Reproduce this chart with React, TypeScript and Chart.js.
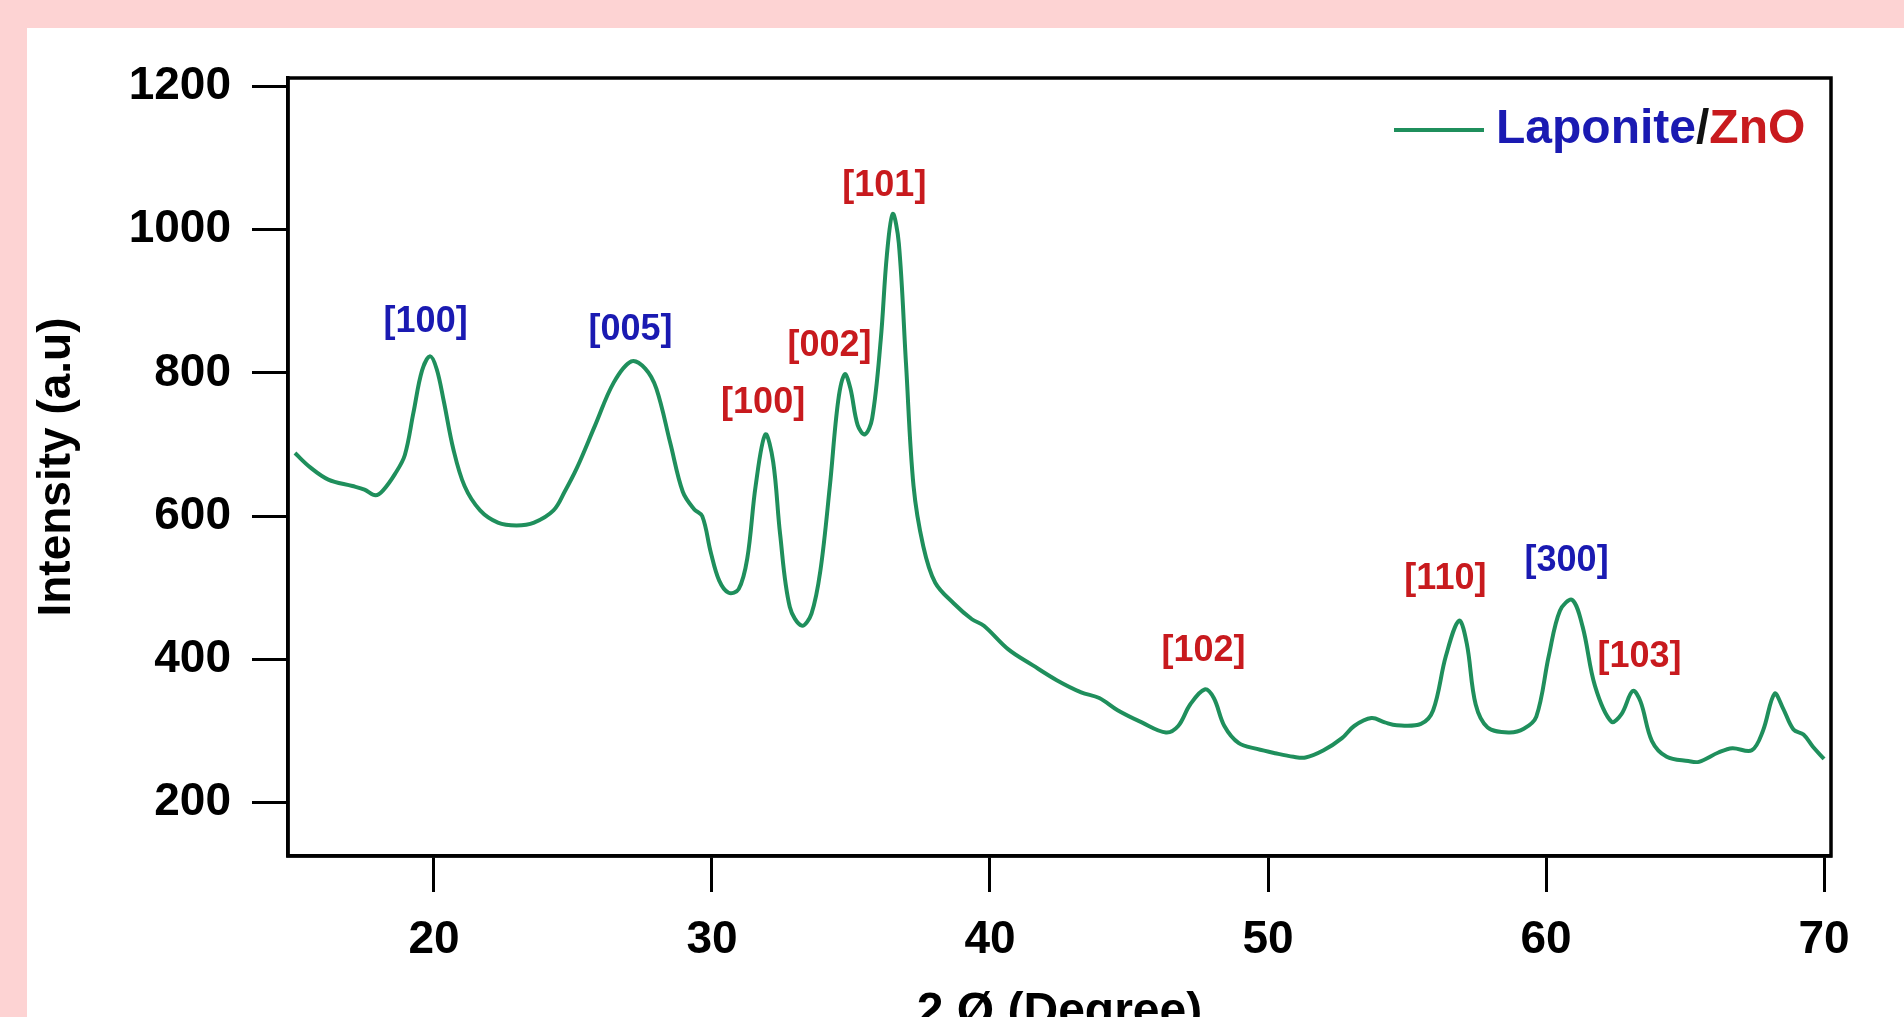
import React, { useEffect, useRef } from "react";
import { Chart, registerables } from "chart.js";

Chart.register(...registerables);

// 2θ (degree) positions of the trace
const twoTheta: number[] = [
  15.0, 15.55, 16.2, 17.07, 17.5, 17.9, 18.17, 18.6, 18.95, 19.26, 19.57, 19.86, 20.1, 20.35, 20.7, 21.1,
  21.66, 22.3, 22.97, 23.6, 24.3, 24.7, 25.15, 25.8, 26.46, 27.1, 27.6, 28.0, 28.5, 28.95, 29.35, 29.65,
  29.96, 30.26, 30.6, 30.96, 31.27, 31.57, 31.92, 32.2, 32.45, 32.8, 33.23, 33.58, 33.9, 34.24, 34.54, 34.78,
  34.98, 35.24, 35.5, 35.76, 36.07, 36.29, 36.5, 36.72, 36.98, 37.25, 37.6, 38.03, 38.7, 39.35, 39.78, 40.66,
  41.53, 42.4, 43.28, 43.93, 44.59, 45.46, 46.33, 46.77, 47.2, 47.72, 48.05, 48.43, 48.95, 49.6, 50.26, 50.92,
  51.35, 52.0, 52.66, 53.1, 53.72, 54.2, 54.63, 55.5, 55.94, 56.4, 56.87, 57.15, 57.47, 57.9, 58.65, 59.2,
  59.65, 60.1, 60.5, 60.94, 61.32, 61.76, 62.35, 62.72, 63.12, 63.4, 63.81, 64.34, 65.12, 65.5, 66.2, 66.7,
  67.4, 67.8, 68.22, 68.52, 68.9, 69.26, 69.6, 70.0,
];

// Intensity (a.u.)
const intensity: number[] = [
  688, 668, 651, 642, 637, 629, 636, 659, 685, 744, 803, 823, 805, 761, 693, 642,
  608, 591, 587, 591, 608, 634, 668, 727, 786, 816, 806, 778, 702, 634, 610, 600,
  549, 510, 493, 498, 541, 642, 714, 676, 575, 473, 447, 464, 524, 642, 761, 798,
  778, 727, 714, 736, 846, 964, 1022, 981, 812, 642, 558, 507, 478, 456, 447, 414,
  392, 371, 354, 346, 329, 312, 298, 307, 337, 358, 346, 307, 283, 275, 269, 264,
  263, 273, 290, 307, 318, 312, 308, 310, 329, 405, 454, 422, 337, 305, 298, 303,
  320, 405, 468, 483, 445, 363, 313, 324, 356, 341, 286, 264, 258, 257, 270, 276,
  273, 300, 352, 332, 302, 295, 278, 261,
];

// Miller-index annotations
const peakLabels: string[] = ["[100]", "[005]", "[100]", "[002]", "[101]", "[102]", "[110]", "[300]", "[103]"];
const peakLabelX: number[] = [19.7, 27.07, 31.84, 34.23, 36.2, 47.68, 56.38, 60.74, 63.36];
const peakLabelY: number[] = [871, 860, 758, 837, 1061, 412, 512, 537, 403];
const peakPhase: string[] = ["Laponite", "Laponite", "ZnO", "ZnO", "ZnO", "ZnO", "ZnO", "Laponite", "ZnO"];

const xTicks: number[] = [20, 30, 40, 50, 60, 70];
const yTicks: number[] = [200, 400, 600, 800, 1000, 1200];

const BLUE = "#1a1ab2";
const RED = "#c81a1e";
const GREEN = "#1f8f5c";
const FONT = "'Liberation Sans', Arial, Helvetica, sans-serif";

export default function App() {
  const canvasRef = useRef<HTMLCanvasElement | null>(null);

  useEffect(() => {
    const canvas = canvasRef.current;
    if (!canvas) return;

    const framePlugin = {
      id: "frameAndLabels",
      afterDatasetsDraw(chart: any) {
        const { ctx, chartArea, scales } = chart;
        ctx.save();
        // closed frame
        ctx.strokeStyle = "#000";
        ctx.lineWidth = 3.5;
        ctx.strokeRect(chartArea.left, chartArea.top, chartArea.right - chartArea.left, chartArea.bottom - chartArea.top);

        // peak labels
        ctx.font = `bold 36px ${FONT}`;
        ctx.textAlign = "center";
        ctx.textBaseline = "middle";
        peakLabels.forEach((t, i) => {
          ctx.fillStyle = peakPhase[i] === "ZnO" ? RED : BLUE;
          ctx.fillText(t, scales.x.getPixelForValue(peakLabelX[i]), scales.y.getPixelForValue(peakLabelY[i]));
        });

        // legend
        const ly = chartArea.top + 52;
        const lx0 = chartArea.right - 437;
        ctx.strokeStyle = GREEN;
        ctx.lineWidth = 4;
        ctx.beginPath();
        ctx.moveTo(lx0, ly);
        ctx.lineTo(lx0 + 90, ly);
        ctx.stroke();
        ctx.font = `bold 48px ${FONT}`;
        ctx.textAlign = "left";
        let tx = lx0 + 102;
        const parts: [string, string][] = [["Laponite", BLUE], ["/", "#111"], ["ZnO", RED]];
        parts.forEach(([s, c]) => {
          ctx.fillStyle = c;
          ctx.fillText(s, tx, ly);
          tx += ctx.measureText(s).width;
        });
        ctx.restore();
      },
    };

    const chart = new Chart(canvas, {
      type: "line",
      data: {
        datasets: [
          {
            label: "Laponite/ZnO",
            data: twoTheta.map((x, i) => ({ x, y: intensity[i] })),
            borderColor: GREEN,
            borderWidth: 4,
            pointRadius: 0,
            fill: false,
            tension: 0.35,
          },
        ],
      },
      options: {
        animation: false,
        responsive: false,
        maintainAspectRatio: false,
        layout: { padding: { left: 0, top: 78, right: 73, bottom: 0 } },
        plugins: { legend: { display: false }, tooltip: { enabled: false } },
        scales: {
          x: {
            type: "linear",
            min: 14.75,
            max: 70.25,
            afterFit: (s: any) => {
              s.height = 204;
            },
            afterBuildTicks: (s: any) => {
              s.ticks = xTicks.map((v) => ({ value: v }));
            },
            ticks: {
              padding: 21,
              color: "#000",
              font: { size: 46, weight: "bold", family: FONT },
              maxRotation: 0,
              callback: (v: any) => String(v),
            },
            grid: {
              drawOnChartArea: false,
              drawTicks: true,
              tickLength: 36,
              tickWidth: 3,
              tickColor: "#000",
              color: "#000",
            },
            border: { display: true, color: "#000", width: 3.5 },
            title: {
              display: true,
              text: "2 Ø (Degree)",
              color: "#000",
              font: { size: 48, weight: "bold", family: FONT },
              padding: { top: 0, bottom: 18 },
            },
          },
          y: {
            type: "linear",
            min: 125.5,
            max: 1211.6,
            afterFit: (s: any) => {
              s.width = 288;
            },
            afterBuildTicks: (s: any) => {
              s.ticks = yTicks.map((v) => ({ value: v }));
            },
            ticks: {
              padding: 21,
              color: "#000",
              font: { size: 46, weight: "bold", family: FONT },
              callback: (v: any) => String(v),
            },
            grid: {
              drawOnChartArea: false,
              drawTicks: true,
              tickLength: 36,
              tickWidth: 3,
              tickColor: "#000",
              color: "#000",
            },
            border: { display: true, color: "#000", width: 3.5 },
            title: {
              display: true,
              text: "Intensity (a.u)",
              color: "#000",
              font: { size: 46, weight: "bold", family: FONT },
              padding: { top: 30, bottom: 0 },
            },
          },
        },
      },
      plugins: [framePlugin],
    } as any);

    return () => chart.destroy();
  }, []);

  return (
    <div style={{ position: "fixed", left: 0, top: 0, width: 1904, height: 1017, overflow: "hidden", background: "#fdd3d3" }}>
      <div style={{ position: "absolute", left: 27, top: 28, width: 1904, height: 1100, background: "#ffffff" }} />
      <canvas
        ref={canvasRef}
        width={1904}
        height={1060}
        style={{ position: "absolute", left: 0, top: 0, width: 1904, height: 1060 }}
      />
    </div>
  );
}
